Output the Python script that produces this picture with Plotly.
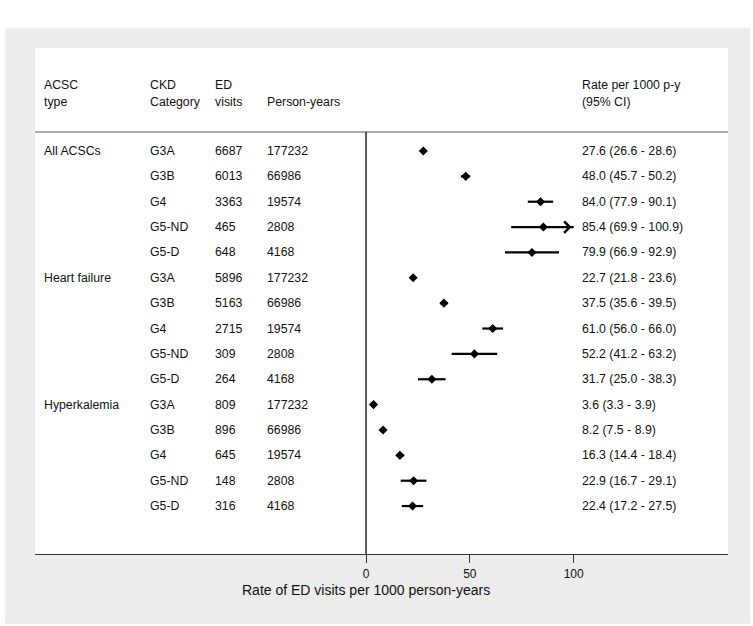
import plotly.graph_objects as go

# data
acsc_type = ["All ACSCs", "", "", "", "", "Heart failure", "", "", "", "", "Hyperkalemia", "", "", "", ""]
ckd_cat = ["G3A", "G3B", "G4", "G5-ND", "G5-D"] * 3
ed_visits = ["6687", "6013", "3363", "465", "648",
             "5896", "5163", "2715", "309", "264",
             "809", "896", "645", "148", "316"]
person_years = ["177232", "66986", "19574", "2808", "4168"] * 3
rate = [27.6, 48.0, 84.0, 85.4, 79.9,
        22.7, 37.5, 61.0, 52.2, 31.7,
        3.6, 8.2, 16.3, 22.9, 22.4]
ci_low = [26.6, 45.7, 77.9, 69.9, 66.9,
          21.8, 35.6, 56.0, 41.2, 25.0,
          3.3, 7.5, 14.4, 16.7, 17.2]
ci_high = [28.6, 50.2, 90.1, 100.9, 92.9,
           23.6, 39.5, 66.0, 63.2, 38.3,
           3.9, 8.9, 18.4, 29.1, 27.5]
header_1 = ["ACSC", "CKD", "ED", "", "Rate per 1000 p-y"]
header_2 = ["type", "Category", "visits", "Person-years", "(95% CI)"]
tick_vals = [0, 50, 100]

x_max_shown = 100
rows = list(range(len(rate)))
hi_clip = [min(h, x_max_shown) for h in ci_high]

FONT = "Arial, Liberation Sans, sans-serif"
GRAY_BG = "#ececec"
TXT = "#111111"

fig = go.Figure()

fig.add_trace(go.Scatter(
    x=rate, y=rows, mode="markers",
    marker=dict(symbol="diamond", size=7, color="black"),
    error_x=dict(type="data", symmetric=False,
                 array=[h - r for h, r in zip(hi_clip, rate)],
                 arrayminus=[r - l for r, l in zip(rate, ci_low)],
                 width=0, thickness=2.2, color="black"),
    showlegend=False, hoverinfo="skip",
))

# columns of text (paper x positions)
col_x = [0.010, 0.163, 0.257, 0.332, 0.786]
annots = []
for i in rows:
    rate_txt = f"{rate[i]:.1f} ({ci_low[i]:.1f} - {ci_high[i]:.1f})"
    for cx, txt in zip(col_x, [acsc_type[i], ckd_cat[i], ed_visits[i], person_years[i], rate_txt]):
        if txt:
            annots.append(dict(x=cx, y=i, xref="paper", yref="y", text=txt,
                               showarrow=False, xanchor="left", yanchor="middle",
                               font=dict(size=12.3, color=TXT, family=FONT)))
for cx, t1, t2 in zip(col_x, header_1, header_2):
    if t1:
        annots.append(dict(x=cx, y=-2.6, xref="paper", yref="y", text=t1, showarrow=False,
                           xanchor="left", yanchor="middle",
                           font=dict(size=12.3, color=TXT, family=FONT)))
    annots.append(dict(x=cx, y=-1.93, xref="paper", yref="y", text=t2, showarrow=False,
                       xanchor="left", yanchor="middle",
                       font=dict(size=12.3, color=TXT, family=FONT)))

# arrow for CI beyond the axis
for i in rows:
    if ci_high[i] > x_max_shown:
        annots.append(dict(x=x_max_shown - 1, y=i, xref="x", yref="y", ax=x_max_shown - 8, ay=i,
                           axref="x", ayref="y", text="", showarrow=True,
                           arrowhead=4, arrowsize=1.1, arrowwidth=2, arrowcolor="black"))

# x axis title centred on zero
annots.append(dict(x=0, y=0, xref="x", yref="paper", yshift=-26, text="Rate of ED visits per 1000 person-years",
                   showarrow=False, xanchor="center", yanchor="top",
                   font=dict(size=14, color=TXT, family=FONT)))

y_bottom = 15.89
y_top = -4.06
header_y = -0.75

shapes = [
    dict(type="rect", xref="paper", yref="paper", x0=-0.043, x1=1.032, y0=-0.138, y1=1.04,
         fillcolor=GRAY_BG, line=dict(width=0), layer="below"),
    dict(type="rect", xref="paper", yref="paper", x0=0, x1=1, y0=0, y1=1,
         fillcolor="white", line=dict(width=0), layer="below"),
    dict(type="line", xref="paper", yref="y", x0=0, x1=1, y0=header_y, y1=header_y,
         line=dict(color="#a9a9a9", width=2)),
    dict(type="line", xref="x", yref="y", x0=0, x1=0, y0=header_y, y1=y_bottom,
         line=dict(color="#333333", width=1.6)),
]

fig.update_layout(
    width=753, height=626,
    margin=dict(l=35, r=25, t=48, b=72),
    paper_bgcolor="white", plot_bgcolor="white",
    font=dict(family=FONT, size=12, color=TXT),
    annotations=annots, shapes=shapes,
    xaxis=dict(range=[-159.4, 174.3], tickvals=tick_vals, ticks="outside", ticklen=8,
               tickwidth=1.4, tickcolor="#333333", showline=True, linecolor="#333333",
               linewidth=1.4, showgrid=False, zeroline=False,
               tickfont=dict(size=12, color=TXT, family=FONT)),
    yaxis=dict(range=[y_bottom, y_top], showticklabels=False, showgrid=False,
               zeroline=False, showline=False, ticks=""),
)

# remove the default page margin so the figure sits at the window corner
fig.write_html("out.html", config={"displayModeBar": False},
               post_script="document.body.style.margin='0';")
